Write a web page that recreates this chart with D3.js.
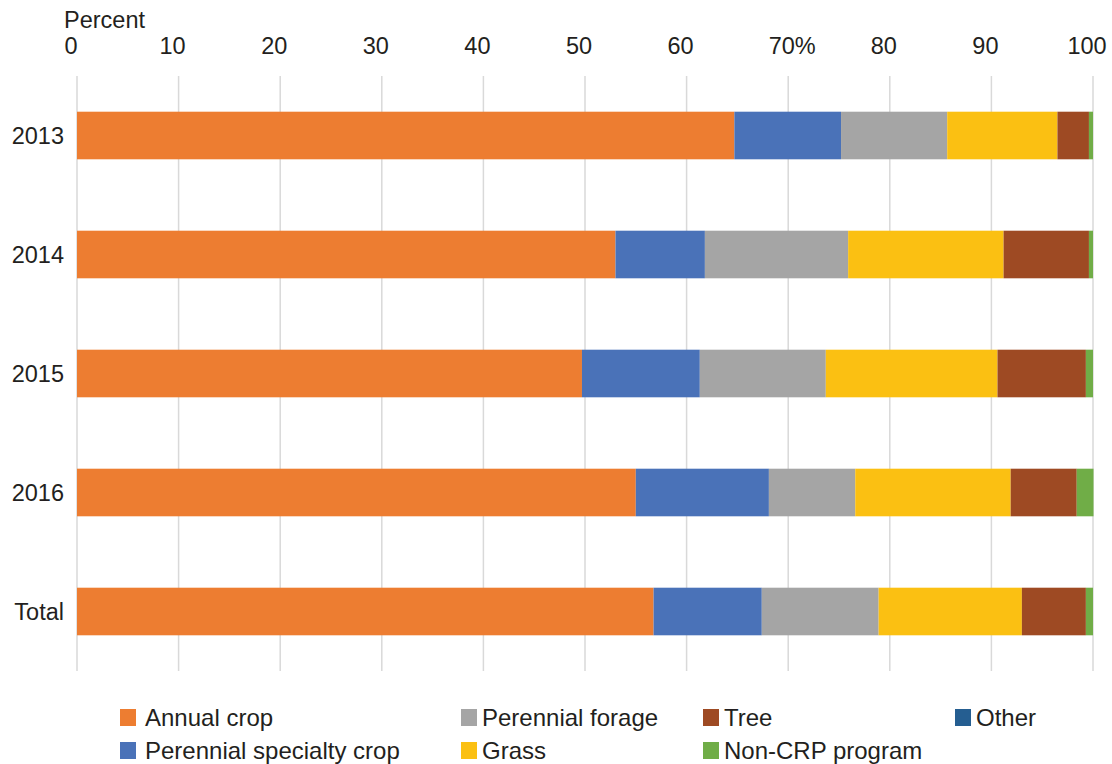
<!DOCTYPE html>
<html>
<head>
<meta charset="utf-8">
<script src="https://cdn.jsdelivr.net/npm/d3@7/dist/d3.min.js"></script>
<style>
  html, body { margin: 0; padding: 0; background: #ffffff; }
  svg text { font-family: "Liberation Sans", Arial, Helvetica, sans-serif; fill: #231f20; }
</style>
</head>
<body>
<svg id="chart" width="1112" height="764"></svg>
<script>
// Share of acres by practice type, percent of each year's total
const categories = ["2013", "2014", "2015", "2016", "Total"];
const seriesNames = ["Annual crop", "Perennial specialty crop", "Perennial forage", "Grass", "Tree", "Other", "Non-CRP program"];
const annualCrop        = [64.7, 53.0, 49.7, 55.0, 56.75];
const perennialSpecialty = [10.5, 8.8, 11.6, 13.1, 10.65];
const perennialForage   = [10.45, 14.1, 12.4, 8.5, 11.5];
const grass             = [10.85, 15.3, 16.9, 15.3, 14.1];
const tree              = [3.1, 8.4, 8.7, 6.5, 6.3];
const other             = [0, 0, 0, 0, 0];
const nonCrp            = [0.4, 0.4, 0.7, 1.65, 0.7];
const tickValues = [0, 10, 20, 30, 40, 50, 60, 70, 80, 90, 100];
const tickLabels = ["0", "10", "20", "30", "40", "50", "60", "70%", "80", "90", "100"];
const colors = ["#ed7d31", "#4a72b8", "#a5a5a5", "#fbc012", "#9e4a23", "#255e91", "#70ad47"];

const seriesValues = [annualCrop, perennialSpecialty, perennialForage, grass, tree, other, nonCrp];
const rows = categories.map((c, i) => {
  const r = { category: c };
  seriesNames.forEach((s, k) => { r[s] = seriesValues[k][i]; });
  return r;
});

const svg = d3.select("#chart");
const margin = { left: 77, right: 19, top: 76, bottom: 93 };
const W = 1112, H = 764;

const x = d3.scaleLinear().domain([0, 100]).range([margin.left, W - margin.right]);
const y = d3.scaleBand().domain(categories).range([margin.top, H - margin.bottom]).paddingInner(0.6).paddingOuter(0.3);

// vertical gridlines
svg.append("g").selectAll("line").data(tickValues).join("line")
  .attr("x1", d => x(d)).attr("x2", d => x(d))
  .attr("y1", margin.top).attr("y2", H - margin.bottom)
  .attr("stroke", "#d9d9d9").attr("stroke-width", 1.5);

// stacked bars
const stack = d3.stack().keys(seriesNames);
const layers = stack(rows);
svg.append("g").selectAll("g").data(layers).join("g")
  .attr("fill", (d, i) => colors[i])
  .selectAll("rect").data(d => d).join("rect")
  .attr("x", d => x(d[0]))
  .attr("width", d => Math.max(0, x(d[1]) - x(d[0])))
  .attr("y", d => y(d.data.category))
  .attr("height", y.bandwidth());

// top axis title and tick labels
svg.append("text").attr("x", 64).attr("y", 28).attr("font-size", 23.5).text("Percent");
svg.append("g").selectAll("text").data(tickValues).join("text")
  .attr("x", (d, i) => x(d) + (tickLabels[i].includes("%") ? 4 : -6))
  .attr("y", 54)
  .attr("text-anchor", "middle")
  .attr("font-size", 23.5)
  .text((d, i) => tickLabels[i]);

// category labels
svg.append("g").selectAll("text").data(categories).join("text")
  .attr("x", 64)
  .attr("y", d => y(d) + y.bandwidth() / 2 + 8)
  .attr("text-anchor", "end")
  .attr("font-size", 23.5)
  .text(d => d);

// legend
const legendItems = [
  { name: "Annual crop", col: 0, row: 0 },
  { name: "Perennial specialty crop", col: 0, row: 1 },
  { name: "Perennial forage", col: 1, row: 0 },
  { name: "Grass", col: 1, row: 1 },
  { name: "Tree", col: 2, row: 0 },
  { name: "Non-CRP program", col: 2, row: 1 },
  { name: "Other", col: 3, row: 0 }
];
const colX = [120, 461, 703, 955];
const rowY = [709, 742];
const legend = svg.append("g").selectAll("g").data(legendItems).join("g")
  .attr("transform", d => `translate(${colX[d.col]},${rowY[d.row]})`);
legend.append("rect").attr("width", 16).attr("height", 17)
  .attr("fill", d => colors[seriesNames.indexOf(d.name)]);
legend.append("text").attr("x", d => d.col === 0 ? 25 : 21).attr("y", 17)
  .attr("font-size", 24).text(d => d.name);
</script>
</body>
</html>
